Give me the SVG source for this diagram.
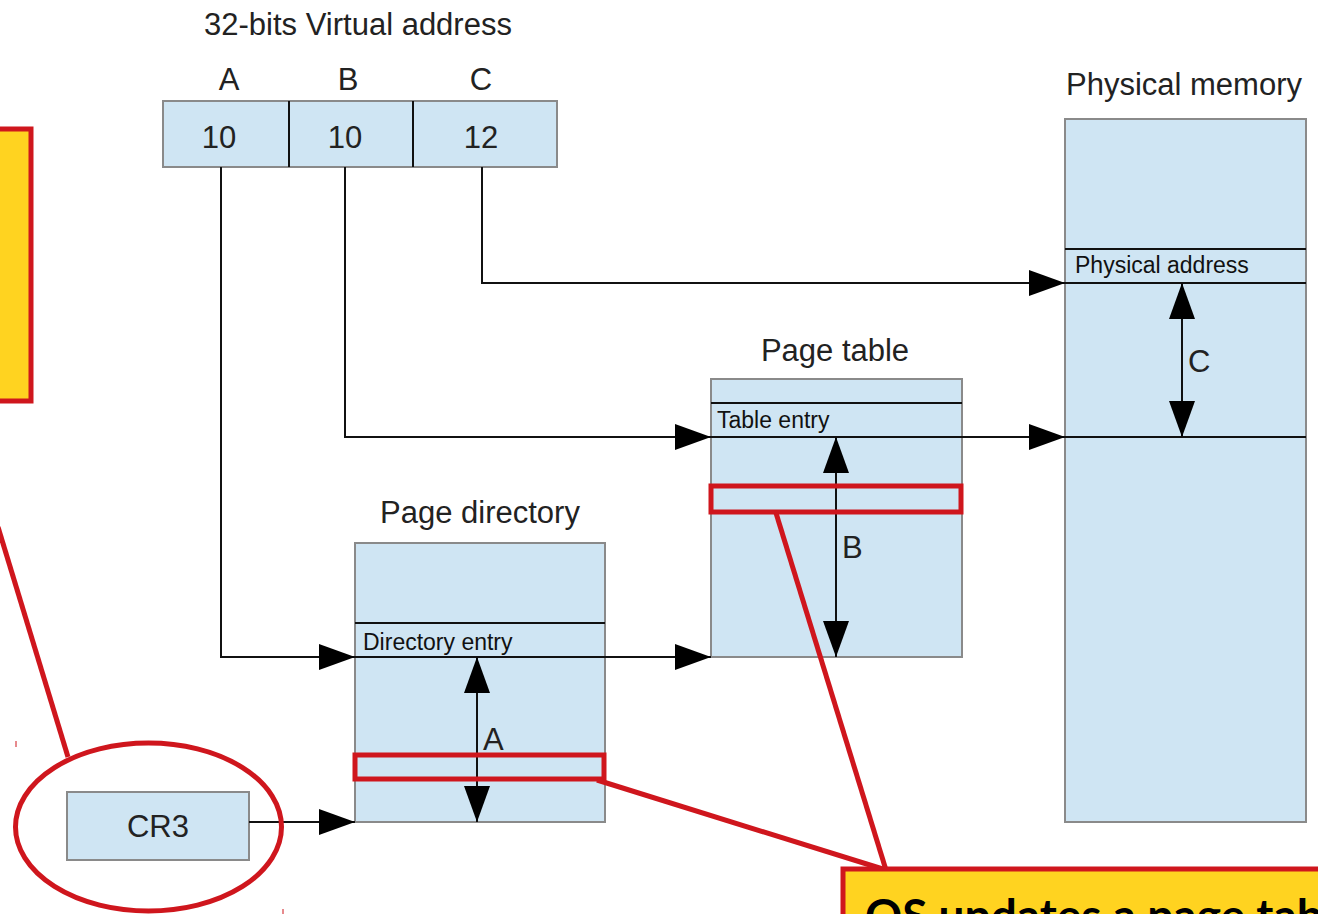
<svg xmlns="http://www.w3.org/2000/svg" width="1318" height="914" viewBox="0 0 1318 914">
  <style>
    .box { fill: #cfe5f3; stroke: #8a8a8a; stroke-width: 2; }
    .row { stroke: #111; stroke-width: 2; fill: none; }
    .wire { stroke: #111; stroke-width: 2; fill: none; }
    .big { font-family: "Liberation Sans", Arial, sans-serif; font-size: 31px; fill: #222; }
    .small { font-family: "Liberation Sans", Arial, sans-serif; font-size: 23px; fill: #111; }
    .hl { fill: none; stroke: #cf161d; stroke-width: 5; }
    .callout { fill: #ffd320; stroke: #cf161d; stroke-width: 5; }
    .note { font-family: Lato, "Open Sans", sans-serif; font-weight: bold; font-size: 46px; fill: #000; }
  </style>
  <defs>
    <marker id="arrow" markerUnits="userSpaceOnUse" markerWidth="36" markerHeight="26" refX="36" refY="13" orient="auto-start-reverse">
      <path d="M0,0 L36,13 L0,26 z" fill="#000"/>
    </marker>
  </defs>

  <rect width="1318" height="914" fill="#fff"/>

  <!-- virtual address split into A / B / C fields -->
  <g id="virtual-address">
    <text class="big" x="358" y="35" text-anchor="middle">32-bits Virtual address</text>
    <text class="big" x="229" y="90" text-anchor="middle">A</text>
    <text class="big" x="348" y="90" text-anchor="middle">B</text>
    <text class="big" x="481" y="90" text-anchor="middle">C</text>
    <rect class="box" x="163" y="101" width="394" height="66"/>
    <line class="row" x1="289" y1="101" x2="289" y2="167"/>
    <line class="row" x1="413" y1="101" x2="413" y2="167"/>
    <text class="big" x="219" y="148" text-anchor="middle">10</text>
    <text class="big" x="345" y="148" text-anchor="middle">10</text>
    <text class="big" x="481" y="148" text-anchor="middle">12</text>
  </g>

  <!-- page directory -->
  <g id="page-directory">
    <text class="big" x="480" y="523" text-anchor="middle">Page directory</text>
    <rect class="box" x="355" y="543" width="250" height="279"/>
    <line class="row" x1="355" y1="623" x2="605" y2="623"/>
    <text class="small" x="363" y="650">Directory entry</text>
  </g>

  <!-- page table -->
  <g id="page-table">
    <text class="big" x="835" y="361" text-anchor="middle">Page table</text>
    <rect class="box" x="711" y="379" width="251" height="278"/>
    <line class="row" x1="711" y1="403" x2="962" y2="403"/>
    <text class="small" x="717" y="428">Table entry</text>
  </g>

  <!-- physical memory -->
  <g id="physical-memory">
    <text class="big" x="1184" y="95" text-anchor="middle">Physical memory</text>
    <rect class="box" x="1065" y="119" width="241" height="703"/>
    <line class="row" x1="1065" y1="249" x2="1306" y2="249"/>
    <line class="row" x1="1065" y1="283" x2="1306" y2="283"/>
    <text class="small" x="1075" y="273">Physical address</text>
  </g>

  <!-- CR3 register -->
  <g id="cr3">
    <rect class="box" x="67" y="792" width="182" height="68"/>
    <text class="big" x="158" y="837" text-anchor="middle">CR3</text>
  </g>

  <!-- connectors -->
  <g id="connectors">
    <polyline class="wire" points="221,167 221,657 355,657" marker-end="url(#arrow)"/>
    <polyline class="wire" points="345,167 345,437 711,437" marker-end="url(#arrow)"/>
    <polyline class="wire" points="482,167 482,283 1065,283" marker-end="url(#arrow)"/>
    <line class="wire" x1="249" y1="822" x2="355" y2="822" marker-end="url(#arrow)"/>
    <line class="wire" x1="355" y1="657" x2="711" y2="657" marker-end="url(#arrow)"/>
    <line class="wire" x1="711" y1="437" x2="1065" y2="437" marker-end="url(#arrow)"/>
    <line class="wire" x1="1065" y1="437" x2="1306" y2="437"/>
    <!-- offsets -->
    <line class="wire" x1="477" y1="657" x2="477" y2="822" marker-start="url(#arrow)" marker-end="url(#arrow)"/>
    <line class="wire" x1="836" y1="437" x2="836" y2="657" marker-start="url(#arrow)" marker-end="url(#arrow)"/>
    <line class="wire" x1="1182" y1="283" x2="1182" y2="437" marker-start="url(#arrow)" marker-end="url(#arrow)"/>
    <text class="big" x="483" y="750">A</text>
    <text class="big" x="842" y="558">B</text>
    <text class="big" x="1188" y="372">C</text>
  </g>

  <!-- annotations -->
  <g id="annotations">
    <rect class="callout" x="-10" y="129" width="41" height="272"/>
    <line class="hl" x1="-2" y1="527" x2="68" y2="757"/>
    <ellipse class="hl" cx="148.5" cy="827" rx="133" ry="84"/>
    <rect class="hl" x="355" y="755" width="249" height="24"/>
    <rect class="hl" x="711" y="486" width="250" height="26"/>
    <line class="hl" x1="597" y1="780" x2="886" y2="870"/>
    <line class="hl" x1="776" y1="513" x2="886" y2="870"/>
    <line stroke="#cf161d" stroke-width="1" x1="16" y1="741" x2="16" y2="747"/>
    <line stroke="#cf161d" stroke-width="1" x1="283" y1="909" x2="283" y2="914"/>
    <rect class="callout" x="843" y="869" width="490" height="60"/>
    <text class="note" x="865" y="932">OS updates a page table</text>
  </g>
</svg>
